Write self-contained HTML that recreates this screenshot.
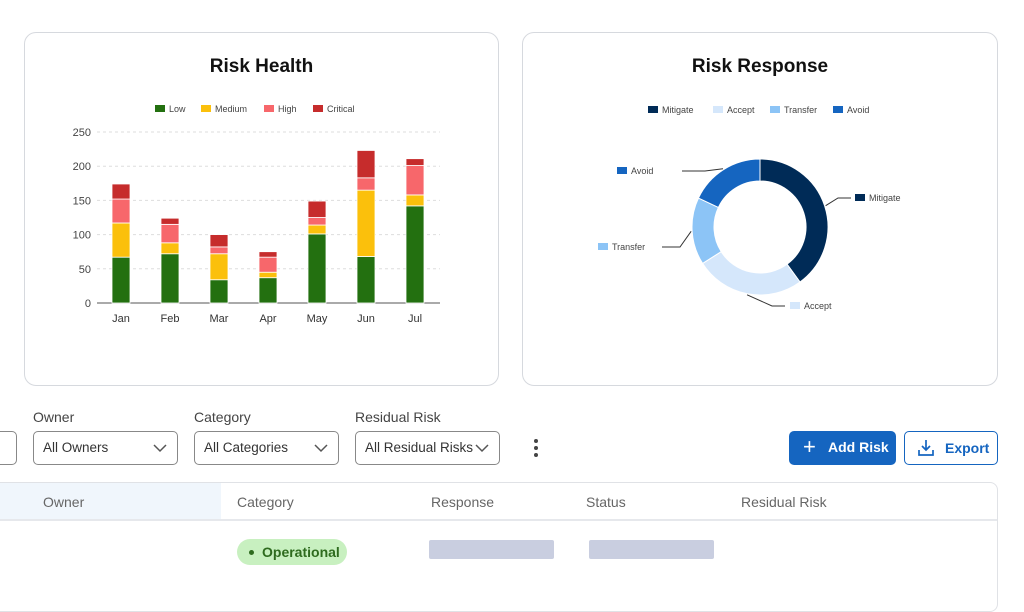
<!DOCTYPE html>
<html><head><meta charset="utf-8"><style>
*{box-sizing:border-box}
body{margin:0;width:1024px;height:578px;overflow:hidden;background:#fff;font-family:"Liberation Sans",sans-serif;position:relative;color:#333}
.card{position:absolute;top:32px;height:354px;border:1px solid #d6d9de;border-radius:12px;background:#fff}
.title{position:absolute;top:55px;font-size:19px;font-weight:bold;color:#111;text-align:center;width:100%}
.lbl{position:absolute;top:409px;font-size:14px;color:#444}
.sel{position:absolute;top:431px;height:34px;border:1px solid #888;border-radius:5px;font-size:13.5px;color:#333;padding:8px 9px;white-space:nowrap}
.sel svg{position:absolute;right:10px;top:12px}
.th{position:absolute;top:494px;font-size:14px;color:#666}
.gb{position:absolute;top:540px;height:19px;background:#c9cee0;border-radius:2px}
</style></head><body>
<div class="card" style="left:24px;width:475px">
<div class="title" style="top:23px">Risk Health</div></div>
<div class="card" style="left:522px;width:476px">
<div class="title" style="top:23px">Risk Response</div></div>
<svg id="chart" width="1024" height="400" style="position:absolute;left:0;top:0" font-family="Liberation Sans, sans-serif"></svg>

<div class="sel" style="left:-10px;width:27px"></div>
<div class="lbl" style="left:33px">Owner</div>
<div class="sel" style="left:33px;width:145px">All Owners<svg width="14" height="9"><path d="M1 1l6 6 6-6" fill="none" stroke="#555" stroke-width="1.5"/></svg></div>
<div class="lbl" style="left:194px">Category</div>
<div class="sel" style="left:194px;width:145px">All Categories<svg width="14" height="9"><path d="M1 1l6 6 6-6" fill="none" stroke="#555" stroke-width="1.5"/></svg></div>
<div class="lbl" style="left:355px">Residual Risk</div>
<div class="sel" style="left:355px;width:145px">All Residual Risks<svg width="14" height="9"><path d="M1 1l6 6 6-6" fill="none" stroke="#555" stroke-width="1.5"/></svg></div>
<svg style="position:absolute;left:531px;top:438px" width="10" height="22"><circle cx="5" cy="3" r="2" fill="#444"/><circle cx="5" cy="10" r="2" fill="#444"/><circle cx="5" cy="17" r="2" fill="#444"/></svg>
<div style="position:absolute;left:789px;top:431px;width:107px;height:34px;background:#1565c0;border-radius:5px;color:#fff;font-size:14px;font-weight:bold;padding:8px 0 0 39px"><span style="position:absolute;left:14px;top:3px;font-size:22px;font-weight:normal">+</span>Add Risk</div>
<div style="position:absolute;left:904px;top:431px;width:94px;height:34px;border:1px solid #1565c0;border-radius:5px;color:#1565c0;font-size:14px;font-weight:bold;padding:8px 0 0 40px"><svg style="position:absolute;left:12px;top:7px" width="18" height="18"><path d="M9 1v10M5 7l4 4 4-4M2 11v5h14v-5" fill="none" stroke="#1565c0" stroke-width="1.7"/></svg>Export</div>

<div style="position:absolute;left:-10px;top:482px;width:1008px;height:130px;border:1px solid #e0e2e6;border-radius:8px"></div>
<div style="position:absolute;left:0;top:483px;width:221px;height:36px;background:#f0f6fc"></div>
<div style="position:absolute;left:0;top:519px;width:997px;height:2px;background:#e6e8ec"></div>
<div class="th" style="left:43px">Owner</div>
<div class="th" style="left:237px">Category</div>
<div class="th" style="left:431px">Response</div>
<div class="th" style="left:586px">Status</div>
<div class="th" style="left:741px">Residual Risk</div>
<div style="position:absolute;left:237px;top:539px;width:110px;height:26px;background:#c8f0c0;border-radius:13px;color:#2e6b1e;font-size:14px;font-weight:bold;padding:5px 0 0 25px"><span style="position:absolute;left:12px;top:11px;width:5px;height:5px;border-radius:50%;background:#2e6b1e"></span>Operational</div>
<div class="gb" style="left:429px;width:125px"></div>
<div class="gb" style="left:589px;width:125px"></div>

<script>
const months=["Jan","Feb","Mar","Apr","May","Jun","Jul"];
const low=[67,72,34,37,101,68,142];
const medium=[50,16,38,8,13,97,16];
const high=[35,27,10,22,11,18,43];
const critical=[22,9,18,8,24,40,10];
const yTicks=[0,50,100,150,200,250];
const seriesNames=["Low","Medium","High","Critical"];
const seriesColors=["#237010","#fbc00c","#f7676b","#c62c2c"];
const respNames=["Mitigate","Accept","Transfer","Avoid"];
const respValues=[40,26,16,18];
const respColors=["#002b57","#d5e7fb","#8cc4f6","#1565c0"];
const NS="http://www.w3.org/2000/svg",svg=document.getElementById('chart');
function el(t,a,txt){const e=document.createElementNS(NS,t);for(const k in a)e.setAttribute(k,a[k]);if(txt!=null)e.textContent=txt;svg.appendChild(e);return e;}
const y=v=>303-v*(171/250), x=i=>121+i*49;
yTicks.forEach(t=>{const g=el('line',{x1:97,x2:440,y1:y(t),y2:y(t),stroke:t?'#ddd':'#555','stroke-dasharray':t?'3 3':'none'});

const l=el('text',{x:91,y:y(t)+4,'text-anchor':'end','font-size':11,fill:'#444'},t);
});
const series=[low,medium,high,critical];
months.forEach((m,i)=>{let acc=0;series.forEach((s,k)=>{const r=el('rect',{x:x(i)-9,width:18,y:y(acc+s[i]),height:y(acc)-y(acc+s[i]),fill:seriesColors[k],stroke:'#fff','stroke-width':0.8});
acc+=s[i];});
const t=el('text',{x:x(i),y:322,'text-anchor':'middle','font-size':11,fill:'#333'},m);
});
const lx=[155,201,264,313];
seriesNames.forEach((n,k)=>{const r=el('rect',{x:lx[k],y:105,width:10,height:7,fill:seriesColors[k]});

el('text',{x:lx[k]+14,y:112,'font-size':9,fill:'#444'},n);});
const rx=[648,713,770,833];
respNames.forEach((n,k)=>{const r=el('rect',{x:rx[k],y:106,width:10,height:7,fill:respColors[k]});

el('text',{x:rx[k]+14,y:113,'font-size':9,fill:'#444'},n);});
const cx=760,cy=227,R=68,ri=46,tot=respValues.reduce((a,b)=>a+b,0);
const P=(a,r)=>[cx+r*Math.sin(a),cy-r*Math.cos(a)];
const lab={Mitigate:[[851,198],[838,198]],Accept:[[785,306],[772,306]],Transfer:[[662,247],[680,247]],Avoid:[[682,171],[705,171]]};
const labX={Mitigate:[855,869],Accept:[790,804],Transfer:[598,612],Avoid:[617,631]};
const labY={Mitigate:198,Accept:306,Transfer:247,Avoid:171};
let a0=0;respValues.forEach((v,k)=>{const a1=a0+v/tot*2*Math.PI,lg=a1-a0>Math.PI?1:0;
const p1=P(a0,R),p2=P(a1,R),p3=P(a1,ri),p4=P(a0,ri);
const s=el('path',{d:`M${p1}A${R} ${R} 0 ${lg} 1 ${p2}L${p3}A${ri} ${ri} 0 ${lg} 0 ${p4}Z`,fill:respColors[k],stroke:'#fff','stroke-width':1});

const n=respNames[k],m=P((a0+a1)/2,R+1),L=lab[n];
el('polyline',{points:`${m} ${L[1]} ${L[0]}`,fill:'none',stroke:'#333','stroke-width':1});
el('rect',{x:labX[n][0],y:labY[n]-4,width:10,height:7,fill:respColors[k]});
const t=el('text',{x:labX[n][1],y:labY[n]+3,'font-size':9,fill:'#444'},n);

a0=a1;});
</script>
</body></html>
